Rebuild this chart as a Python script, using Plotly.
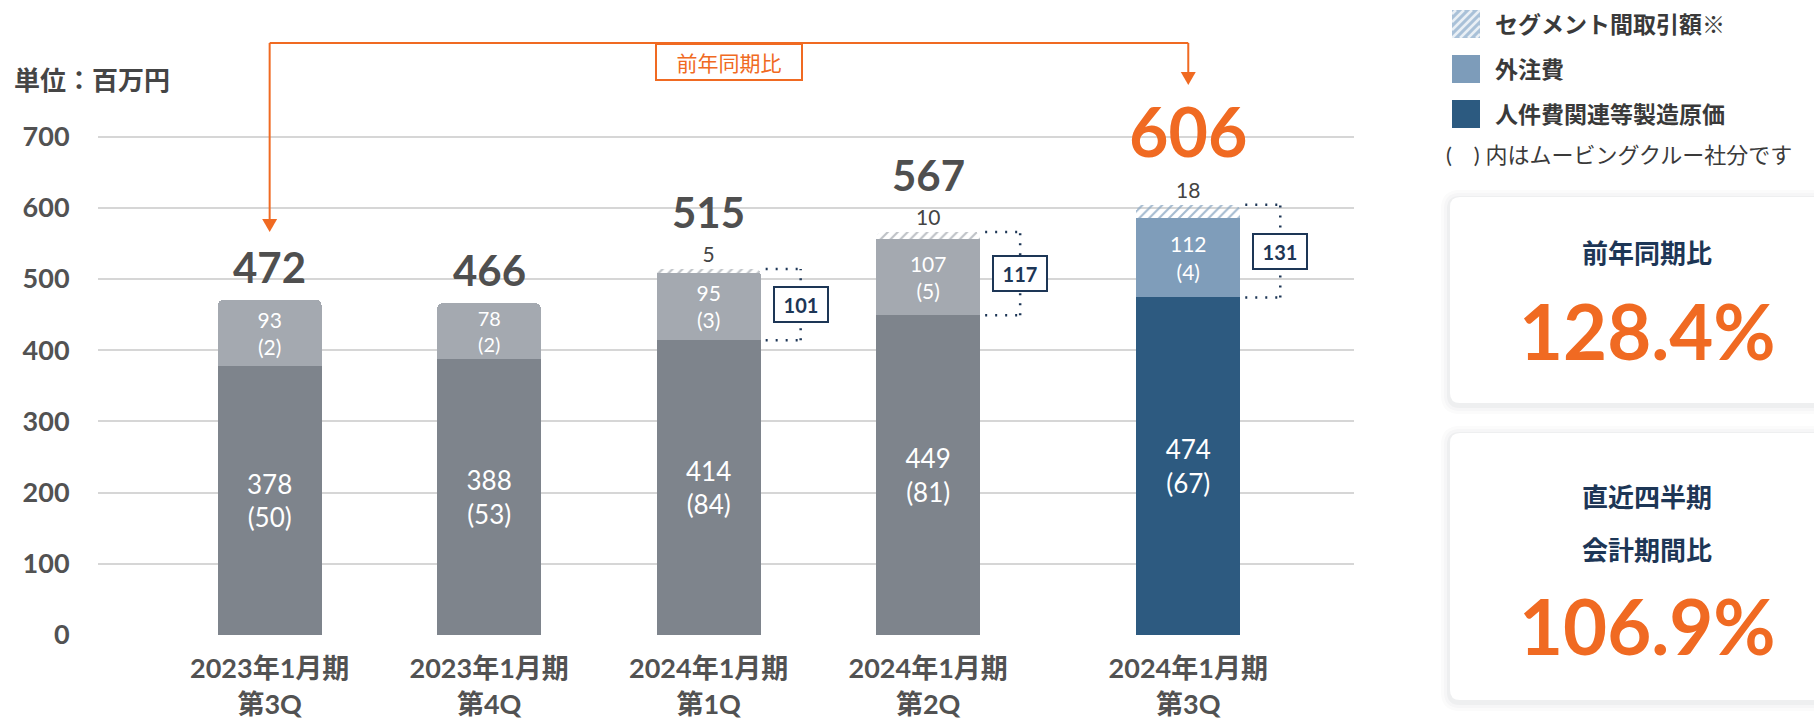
import plotly.graph_objects as go

# ---- data ----
categories = ["2023年1月期<br>第3Q", "2023年1月期<br>第4Q", "2024年1月期<br>第1Q",
              "2024年1月期<br>第2Q", "2024年1月期<br>第3Q"]
labor_cost = [378, 388, 414, 449, 474]          # 人件費関連等製造原価
labor_cost_mc = [50, 53, 84, 81, 67]            # ( ) ムービングクルー社分
outsourcing = [93, 78, 95, 107, 112]            # 外注費
outsourcing_mc = [2, 2, 3, 5, 4]
segment_trade = [None, None, 5, 10, 18]         # セグメント間取引額
totals = [472, 466, 515, 567, 606]
bracket_totals = [None, None, 101, 117, 131]    # 外注費 + セグメント間取引額
y_ticks = [0, 100, 200, 300, 400, 500, 600, 700]
yoy_label, yoy_value = "前年同期比", "128.4%"
qoq_label_lines, qoq_value = ["直近四半期", "会計期間比"], "106.9%"
legend_labels = ["セグメント間取引額※", "外注費", "人件費関連等製造原価"]
legend_note = "(\u3000) 内はムービングクルー社分です"
unit_label = "単位：百万円"

# ---- layout / style ----
x_pos = [0, 1, 2, 3, 4.185]
HIGHLIGHT = 4
W, H = 1814, 722
ML, MR, MT, MB = 98, 460, 22, 87
PW, PH = W - ML - MR, H - MT - MB
X0, X1 = -0.782, 4.94
Y_TOP = 700 * PH / 498.5
PX_PER_X = PW / (X1 - X0)
BAR_W = 104 / PX_PER_X

FONT = "Lato, 'Noto Sans CJK JP', sans-serif"
GRAY_TXT = "#525252"
NAVY = "#1d3656"
ORANGE = "#f06a22"
base_colors = ["#7e848c"] * 4 + ["#2d5a80"]
out_colors = ["#a4a9b0"] * 4 + ["#7f9dba"]
hatch_colors = ["#adb2b8"] * 4 + ["#8eaac4"]


def px(x):
    return (x - ML) / PW


def py(y):
    return (H - MB - y) / PH


def rrect(x0, y0, x1, y1, r):
    return (f"M {px(x0 + r)},{py(y0)} L {px(x1 - r)},{py(y0)} Q {px(x1)},{py(y0)} {px(x1)},{py(y0 + r)} "
            f"L {px(x1)},{py(y1 - r)} Q {px(x1)},{py(y1)} {px(x1 - r)},{py(y1)} "
            f"L {px(x0 + r)},{py(y1)} Q {px(x0)},{py(y1)} {px(x0)},{py(y1 - r)} "
            f"L {px(x0)},{py(y0 + r)} Q {px(x0)},{py(y0)} {px(x0 + r)},{py(y0)} Z")


fig = go.Figure()

fig.add_trace(go.Bar(
    x=x_pos, y=labor_cost, width=BAR_W, name=legend_labels[2],
    marker=dict(color=base_colors, line=dict(width=0)),
    text=[f"{v}<br>({m})" for v, m in zip(labor_cost, labor_cost_mc)],
    textposition="inside", insidetextanchor="middle", constraintext="none", textangle=0,
    textfont=dict(family=FONT, size=26, color="white"),
    hoverinfo="skip",
))
fig.add_trace(go.Bar(
    x=x_pos, y=outsourcing, width=BAR_W, name=legend_labels[1],
    marker=dict(color=out_colors, line=dict(width=0)),
    text=[f"{v}<br>({m})" for v, m in zip(outsourcing, outsourcing_mc)],
    textposition="inside", insidetextanchor="middle", constraintext="none", textangle=0,
    textfont=dict(family=FONT, size=21, color="white"),
    hoverinfo="skip",
))
fig.add_trace(go.Bar(
    x=x_pos, y=segment_trade, width=BAR_W, name=legend_labels[0],
    marker=dict(color=hatch_colors, line=dict(width=0),
                pattern=dict(shape="/", fgcolor="white", bgcolor=hatch_colors, fgopacity=0.8,
                             size=7, solidity=0.3, fillmode="replace")),
    text=[str(v) if v else "" for v in segment_trade],
    textposition="outside", constraintext="none", textangle=0,
    outsidetextfont=dict(family=FONT, size=21, color="#444444"),
    cliponaxis=False, hoverinfo="skip",
))

# totals above the bars
for i, t in enumerate(totals):
    stacked = labor_cost[i] + outsourcing[i] + (segment_trade[i] or 0)
    if i == HIGHLIGHT:
        font = dict(family=FONT, size=68, color=ORANGE, weight="bold")
        shift = 74
    else:
        font = dict(family=FONT, size=42, color="#4f4f4f", weight="bold")
        shift = 57 if segment_trade[i] else 33
    fig.add_annotation(x=x_pos[i], y=stacked, yshift=shift, text=str(t), showarrow=False,
                       xref="x", yref="y", yanchor="middle", font=font)

# dotted brackets with the outsourcing + segment total
for i, b in enumerate(bracket_totals):
    if b is None:
        continue
    top = labor_cost[i] + outsourcing[i] + segment_trade[i]
    bot = labor_cost[i]
    x_start = x_pos[i] + (52 + 5) / PX_PER_X
    x_box = x_pos[i] + (52 + 40) / PX_PER_X
    dot = dict(color=NAVY, width=2.5, dash="2px,8px")
    for yy in (top, bot):
        fig.add_shape(type="line", xref="x", yref="y", x0=x_start, x1=x_box, y0=yy, y1=yy, line=dot)
    fig.add_shape(type="line", xref="x", yref="y", x0=x_box, x1=x_box, y0=bot, y1=top, line=dot)
    fig.add_annotation(x=x_box, y=(top + bot) / 2, xref="x", yref="y", text=f"<b>{b}</b>",
                       showarrow=False, bgcolor="white", bordercolor=NAVY, borderwidth=2,
                       borderpad=1, width=50, height=31,
                       font=dict(family=FONT, size=20, color=NAVY))

# orange year-on-year bracket
y_line = 43
tips = {0: 232, HIGHLIGHT: 85}
orange_line = dict(color=ORANGE, width=2)
fig.add_shape(type="line", xref="x", yref="paper", x0=x_pos[0], x1=x_pos[HIGHLIGHT],
              y0=py(y_line), y1=py(y_line), line=orange_line)
for i, tip in tips.items():
    fig.add_shape(type="line", xref="x", yref="paper", x0=x_pos[i], x1=x_pos[i],
                  y0=py(y_line), y1=py(tip - 12), line=orange_line)
    hw = 7.5 / PX_PER_X
    fig.add_shape(type="path", xref="x", yref="paper",
                  path=f"M {x_pos[i] - hw},{py(tip - 13)} L {x_pos[i] + hw},{py(tip - 13)} L {x_pos[i]},{py(tip)} Z",
                  fillcolor=ORANGE, line=dict(width=0))
fig.add_annotation(x=(x_pos[0] + x_pos[HIGHLIGHT]) / 2, y=py(y_line), xref="x", yref="paper",
                   text=yoy_label, showarrow=False, bgcolor="white", bordercolor=ORANGE,
                   borderwidth=2, borderpad=1, width=142, height=32,
                   font=dict(family=FONT, size=21, color=ORANGE))

# unit label
fig.add_annotation(x=px(12), y=py(80), xref="paper", yref="paper", xanchor="left", yanchor="middle",
                   text=unit_label, showarrow=False,
                   font=dict(family=FONT, size=26, color="#454545", weight="bold"))

# legend (drawn by hand so the swatches match the reference size)
sw_x0, sw_size = 1452, 28
sw_centers = [24, 69, 114]
sw_fills = ["#a9c1d8", "#7d9cba", "#2c5a80"]
for k, (lab, cy, col) in enumerate(zip(legend_labels, sw_centers, sw_fills)):
    y0 = cy - sw_size / 2
    fig.add_shape(type="rect", xref="paper", yref="paper", x0=px(sw_x0), x1=px(sw_x0 + sw_size),
                  y0=py(y0), y1=py(y0 + sw_size), fillcolor=col, line=dict(width=0))
    if k == 0:
        for c in range(4, 2 * sw_size, 8):
            u1, u2 = max(0, c - sw_size), min(c, sw_size)
            fig.add_shape(type="line", xref="paper", yref="paper",
                          x0=px(sw_x0 + u1), y0=py(y0 + c - u1), x1=px(sw_x0 + u2), y1=py(y0 + c - u2),
                          line=dict(color="rgba(255,255,255,0.75)", width=2.5))
    fig.add_annotation(x=px(1493), y=py(cy), xref="paper", yref="paper", xanchor="left", yanchor="middle",
                       text=lab, showarrow=False,
                       font=dict(family=FONT, size=23, color="#3a3a3a", weight="bold"))
fig.add_annotation(x=px(1444), y=py(154), xref="paper", yref="paper", xanchor="left", yanchor="middle",
                   text=legend_note, showarrow=False,
                   font=dict(family=FONT, size=22, color="#3a3a3a"))

# KPI cards
cards = [(197, 403), (433, 700)]
for (cy0, cy1) in cards:
    for grow, alpha in ((9, 0.018), (6, 0.025), (3, 0.035)):
        fig.add_shape(type="path", xref="paper", yref="paper",
                      path=rrect(1450 - grow, cy0 - grow + 2, 1840, cy1 + grow + 2, 10 + grow),
                      fillcolor=f"rgba(40,50,70,{alpha})", line=dict(width=0))
    fig.add_shape(type="path", xref="paper", yref="paper", path=rrect(1450, cy0, 1840, cy1, 10),
                  fillcolor="white", line=dict(width=0))

kpi_text = [(yoy_label, 253, 26, NAVY), (yoy_value, 330, 76, ORANGE),
            (qoq_label_lines[0], 497, 26, NAVY), (qoq_label_lines[1], 550, 26, NAVY),
            (qoq_value, 625, 76, ORANGE)]
for txt, cy, size, col in kpi_text:
    fig.add_annotation(x=px(1647), y=py(cy), xref="paper", yref="paper", text=txt, showarrow=False,
                       xanchor="center", yanchor="middle",
                       font=dict(family=FONT, size=size, color=col, weight="bold"))

fig.update_layout(
    width=W, height=H,
    margin=dict(l=ML, r=MR, t=MT, b=MB, autoexpand=False),
    barmode="stack", barcornerradius=6,
    plot_bgcolor="white", paper_bgcolor="white",
    showlegend=False,
    font=dict(family=FONT, color=GRAY_TXT),
)
fig.update_xaxes(
    range=[X0, X1], tickvals=x_pos, ticktext=categories, automargin=False,
    showgrid=False, zeroline=False, showline=False,
    ticks="outside", ticklen=10, tickcolor="rgba(0,0,0,0)",
    tickfont=dict(family=FONT, size=27, color=GRAY_TXT, weight="bold"),
)
fig.update_yaxes(
    range=[0, Y_TOP], tickvals=y_ticks, automargin=False,
    showgrid=True, gridcolor="#d6d6d6", gridwidth=1.5, zeroline=False, showline=False,
    ticks="outside", ticklen=22, tickcolor="rgba(0,0,0,0)",
    tickfont=dict(family=FONT, size=27, color=GRAY_TXT, weight="bold"),
)

fig.write_html("out.html", config={"displayModeBar": False},
               post_script="document.body.style.margin='0px';")
